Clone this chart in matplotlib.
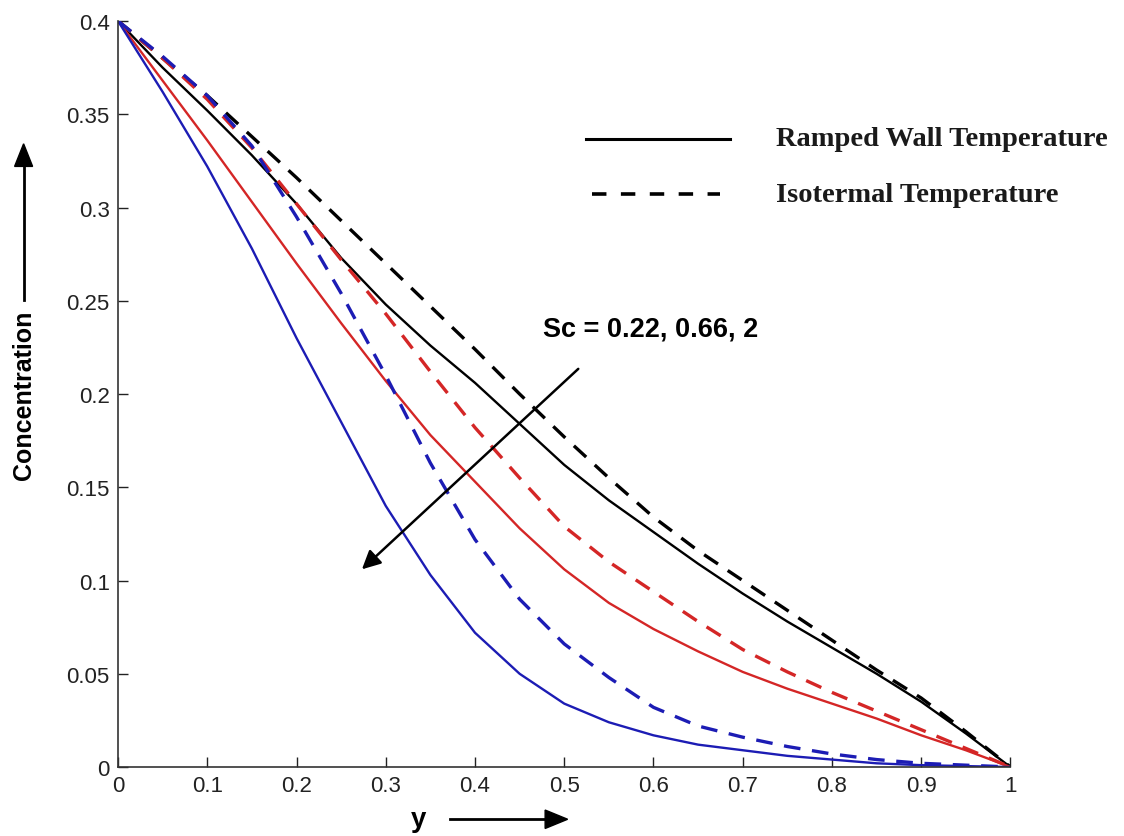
import numpy as np
import matplotlib.pyplot as plt

# distance from the plate, sampled every 0.05
y = [0, .05, .1, .15, .2, .25, .3, .35, .4, .45, .5, .55, .6, .65, .7, .75, .8, .85, .9, .95, 1]

# ramped wall temperature (solid)
ramp_022 = [.400, .375, .352, .328, .302, .273, .248, .226, .206, .184, .162, .143, .126, .109, .093, .078, .064, .050, .035, .018, .000]
ramp_066 = [.400, .368, .336, .303, .270, .238, .207, .178, .153, .128, .106, .088, .074, .062, .051, .042, .034, .026, .017, .009, .000]
ramp_2 = [.400, .362, .322, .278, .230, .185, .140, .103, .072, .050, .034, .024, .017, .012, .009, .006, .004, .002, .001, .0005, .000]

# isothermal temperature (dashed)
iso_022 = [.400, .380, .360, .338, .316, .293, .270, .247, .224, .200, .177, .155, .134, .116, .100, .084, .068, .052, .037, .019, .000]
iso_066 = [.400, .380, .358, .332, .302, .272, .243, .212, .182, .155, .129, .110, .094, .078, .063, .051, .040, .030, .020, .010, .000]
iso_2 = [.400, .381, .360, .333, .295, .254, .210, .163, .122, .090, .066, .048, .032, .022, .016, .011, .007, .004, .002, .001, .000]

xticks = [0, 0.1, 0.2, 0.3, 0.4, 0.5, 0.6, 0.7, 0.8, 0.9, 1]
xlabels = ['0', '0.1', '0.2', '0.3', '0.4', '0.5', '0.6', '0.7', '0.8', '0.9', '1']
yticks = [0, 0.05, 0.1, 0.15, 0.2, 0.25, 0.3, 0.35, 0.4]
ylabels = ['0', '0.05', '0.1', '0.15', '0.2', '0.25', '0.3', '0.35', '0.4']

blue = '#1c1cb4'
red = '#d42626'

plt.rcParams['font.family'] = ['Liberation Sans', 'DejaVu Sans']

fig = plt.figure(figsize=(11.24, 8.37), dpi=100)
ax = fig.add_axes([0.105, 0.0824, 0.794, 0.8913])

ax.plot(y, ramp_022, color='black', lw=1.7)
ax.plot(y, iso_022, color='black', lw=2.4, dashes=(5, 3.5))
ax.plot(y, ramp_066, color=red, lw=1.7)
ax.plot(y, iso_066, color=red, lw=2.4, dashes=(5, 3.5))
ax.plot(y, ramp_2, color=blue, lw=1.7)
ax.plot(y, iso_2, color=blue, lw=2.4, dashes=(5, 3.5))

ax.set_xlim(0, 1)
ax.set_ylim(0, 0.4)
ax.set_xticks(xticks)
ax.set_xticklabels(xlabels)
ax.set_yticks(yticks)
ax.set_yticklabels(ylabels)
ax.tick_params(direction='in', length=7, width=1, labelsize=16, colors='#222222', pad=6)
ax.spines['top'].set_visible(False)
ax.spines['right'].set_visible(False)
for s in ['left', 'bottom']:
    ax.spines[s].set_linewidth(1.2)
    ax.spines[s].set_color('#333333')

# hand-drawn legend
ax.plot([0.524, 0.686], [0.337, 0.337], color='black', lw=2.2, clip_on=False)
ax.plot([0.531, 0.675], [0.307, 0.307], color='black', lw=2.6, dashes=(4, 4), clip_on=False)
ax.text(0.737, 0.337, 'Ramped Wall Temperature', family='Liberation Serif', weight='bold',
        fontsize=20.5, va='center', ha='left', color='#1a1a1a')
ax.text(0.737, 0.307, 'Isotermal Temperature', family='Liberation Serif', weight='bold',
        fontsize=20.5, va='center', ha='left', color='#1a1a1a')

# Sc annotation
ax.text(0.476, 0.235, 'Sc = 0.22, 0.66, 2', fontsize=19.5, weight='bold', va='center', ha='left')
ax.annotate('', xy=(0.271, 0.105), xytext=(0.518, 0.2145),
            arrowprops=dict(arrowstyle='-|>', color='black', lw=1.8, mutation_scale=28))

# axis labels with arrows
fig.text(0.021, 0.528, 'Concentration', rotation=90, fontsize=18, weight='bold',
         va='center', ha='center')
fig.add_artist(plt.Line2D([0.021, 0.021], [0.64, 0.81], color='black', lw=2))
fig.patches.append(plt.Polygon([[0.013, 0.80], [0.029, 0.80], [0.021, 0.827]], closed=True,
                               color='black', transform=fig.transFigure))
fig.text(0.372, 0.02, 'y', fontsize=20, weight='bold', va='center', ha='center')
fig.add_artist(plt.Line2D([0.40, 0.487], [0.02, 0.02], color='black', lw=2))
fig.patches.append(plt.Polygon([[0.485, 0.031], [0.485, 0.009], [0.505, 0.02]], closed=True,
                               color='black', transform=fig.transFigure))

fig.savefig('out.png', dpi=100)
